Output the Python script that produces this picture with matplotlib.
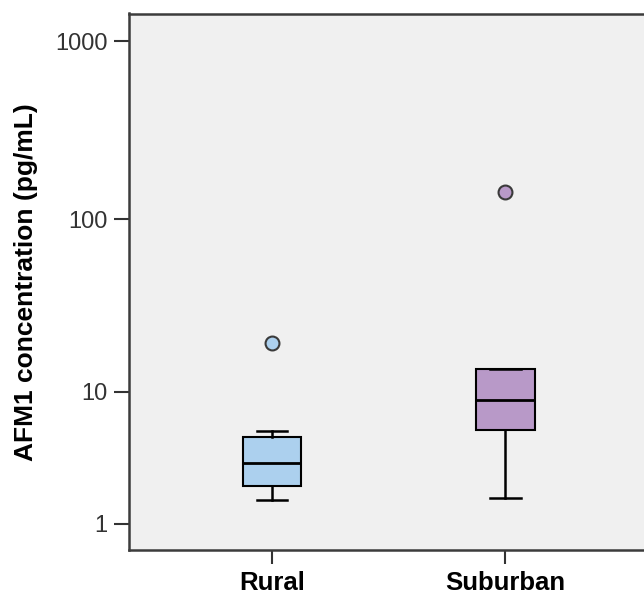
import numpy as np
import matplotlib
matplotlib.use('Agg')
import matplotlib.pyplot as plt

plt.rcParams['font.family'] = ['Liberation Sans', 'DejaVu Sans']

# box statistics
groups = ['Rural', 'Suburban']
whislo = [1.72, 1.81]
q1 = [2.27, 5.71]
med = [3.40, 8.87]
q3 = [5.13, 13.65]
whishi = [5.62, 13.65]
outliers = [[19.5], [142.5]]
colors = ['#ACD0EE', '#B899C8']

yticks = [1, 10, 100, 1000]

# SPSS "safe log" style axis: log10(x + 1)
def fwd(v):
    return np.log10(np.maximum(v, 0) + 1)

def inv(v):
    return 10 ** v - 1

stats = []
for i, g in enumerate(groups):
    stats.append({'label': g, 'whislo': whislo[i], 'q1': q1[i], 'med': med[i],
                  'q3': q3[i], 'whishi': whishi[i], 'fliers': outliers[i]})

fig = plt.figure(figsize=(6.44, 5.97), dpi=100)
ax = fig.add_axes([128.5 / 644, 47 / 597, 520.5 / 644, 536.5 / 597])
ax.set_facecolor('#F0F0F0')
ax.set_yscale('function', functions=(fwd, inv))

bp = ax.bxp(stats, positions=range(len(groups)), widths=0.25, capwidths=0.13,
            patch_artist=True, showfliers=True,
            boxprops=dict(linewidth=1.5, edgecolor='black'),
            medianprops=dict(color='black', linewidth=2),
            whiskerprops=dict(color='black', linewidth=1.8),
            capprops=dict(color='black', linewidth=1.8))
for patch, c in zip(bp['boxes'], colors):
    patch.set_facecolor(c)
for fl, c in zip(bp['fliers'], colors):
    fl.set(marker='o', markersize=10, markerfacecolor=c,
           markeredgecolor='#3a3a3a', markeredgewidth=1.5)

ax.set_xlim(-0.615, 1.615)
ax.set_ylim(0.431, 1426)
ax.set_yticks(yticks)
ax.set_yticklabels([str(t) for t in yticks])
ax.yaxis.set_minor_locator(matplotlib.ticker.NullLocator())
ax.set_xticks(range(len(groups)))
ax.set_xticklabels(groups, fontsize=18.5, fontweight='bold')
ax.tick_params(axis='y', labelsize=17, labelcolor='#333333', length=11, width=1.5,
               color='#333333', pad=4)
ax.tick_params(axis='x', length=10, width=1.5, color='#333333', pad=5)
for s in ax.spines.values():
    s.set_linewidth(1.8)
    s.set_color('#3c3c3c')

ax.set_ylabel('AFM1 concentration (pg/mL)', fontsize=19, fontweight='bold', labelpad=12)

fig.savefig('out.png', dpi=100, facecolor='white')
